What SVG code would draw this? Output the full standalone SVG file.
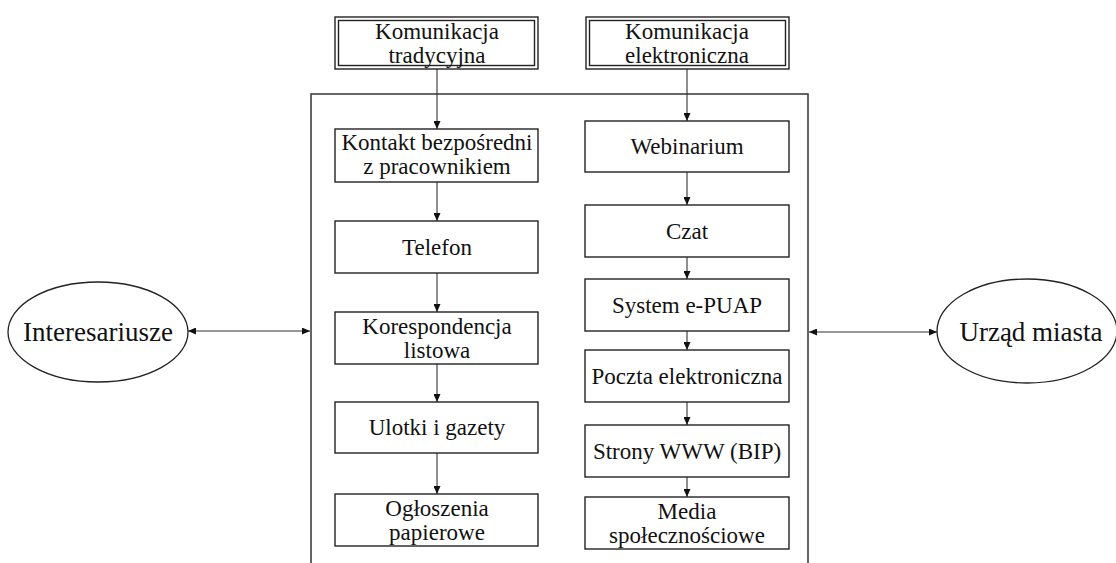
<svg xmlns="http://www.w3.org/2000/svg" width="1116" height="563" viewBox="0 0 1116 563">
<style>
text{font-family:"Liberation Serif","Times New Roman",serif;font-size:23px;fill:#111;text-anchor:middle}
.big{font-size:27px}
.box{fill:#fff;stroke:#222;stroke-width:1.4}
.ell{fill:#fff;stroke:#222;stroke-width:1.3}
.con{fill:none;stroke:#333;stroke-width:1.1}
.frame{fill:none;stroke:#333;stroke-width:1.5}
</style>
<defs>
<marker id="ah" markerUnits="userSpaceOnUse" markerWidth="9" markerHeight="7" refX="8" refY="3.5" orient="auto-start-reverse">
<path d="M0,0 L8,3.5 L0,7 z" fill="#111"/>
</marker>
</defs>
<rect width="1116" height="563" fill="#fff"/>
<path class="frame" d="M311,563 V94 H808 V563"/>
<g id="connectors">
<line class="con" x1="437" y1="69" x2="437" y2="129" marker-end="url(#ah)"/>
<line class="con" x1="437" y1="182" x2="437" y2="221" marker-end="url(#ah)"/>
<line class="con" x1="437" y1="273" x2="437" y2="312" marker-end="url(#ah)"/>
<line class="con" x1="437" y1="364" x2="437" y2="402" marker-end="url(#ah)"/>
<line class="con" x1="437" y1="453" x2="437" y2="494" marker-end="url(#ah)"/>
<line class="con" x1="687" y1="69" x2="687" y2="121" marker-end="url(#ah)"/>
<line class="con" x1="687" y1="172" x2="687" y2="205" marker-end="url(#ah)"/>
<line class="con" x1="687" y1="257" x2="687" y2="279" marker-end="url(#ah)"/>
<line class="con" x1="687" y1="331" x2="687" y2="350" marker-end="url(#ah)"/>
<line class="con" x1="687" y1="402" x2="687" y2="425" marker-end="url(#ah)"/>
<line class="con" x1="687" y1="477" x2="687" y2="497" marker-end="url(#ah)"/>
<line class="con" x1="188" y1="331" x2="310" y2="331" marker-start="url(#ah)" marker-end="url(#ah)"/>
<line class="con" x1="809" y1="332" x2="937" y2="332" marker-start="url(#ah)" marker-end="url(#ah)"/>
</g>
<g id="n-tradycyjna">
<rect class="box" x="335" y="17" width="203" height="52"/>
<rect class="box" x="338.5" y="20.5" width="196" height="45"/>
<text x="437" y="39">Komunikacja</text>
<text x="437" y="63">tradycyjna</text>
</g>
<g id="n-elektroniczna">
<rect class="box" x="586" y="17" width="203" height="52"/>
<rect class="box" x="589.5" y="20.5" width="196" height="45"/>
<text x="687" y="39">Komunikacja</text>
<text x="687" y="63">elektroniczna</text>
</g>
<g id="n-kontakt">
<rect class="box" x="335" y="129" width="203" height="53"/>
<text x="437" y="150">Kontakt bezpośredni</text>
<text x="437" y="174">z pracownikiem</text>
</g>
<g id="n-telefon">
<rect class="box" x="335" y="221" width="203" height="52"/>
<text x="437" y="255">Telefon</text>
</g>
<g id="n-korespondencja">
<rect class="box" x="335" y="312" width="203" height="52"/>
<text x="437" y="334">Korespondencja</text>
<text x="437" y="358">listowa</text>
</g>
<g id="n-ulotki">
<rect class="box" x="335" y="402" width="203" height="51"/>
<text x="437" y="435">Ulotki i gazety</text>
</g>
<g id="n-ogloszenia">
<rect class="box" x="335" y="494" width="203" height="52"/>
<text x="437" y="516">Ogłoszenia</text>
<text x="437" y="540">papierowe</text>
</g>
<g id="n-webinarium">
<rect class="box" x="585" y="121" width="204" height="51"/>
<text x="687" y="154">Webinarium</text>
</g>
<g id="n-czat">
<rect class="box" x="585" y="205" width="204" height="52"/>
<text x="687" y="239">Czat</text>
</g>
<g id="n-epuap">
<rect class="box" x="585" y="279" width="204" height="52"/>
<text x="687" y="313">System e-PUAP</text>
</g>
<g id="n-poczta">
<rect class="box" x="585" y="350" width="204" height="52"/>
<text x="687" y="384">Poczta elektroniczna</text>
</g>
<g id="n-strony">
<rect class="box" x="585" y="425" width="204" height="52"/>
<text x="687" y="459">Strony WWW (BIP)</text>
</g>
<g id="n-media">
<rect class="box" x="585" y="497" width="204" height="52"/>
<text x="687" y="519">Media</text>
<text x="687" y="543">społecznościowe</text>
</g>
<g id="n-interesariusze">
<ellipse class="ell" cx="98" cy="332" rx="90" ry="50"/>
<text class="big" x="98" y="341">Interesariusze</text>
</g>
<g id="n-urzad">
<ellipse class="ell" cx="1027" cy="331" rx="90" ry="52"/>
<text class="big" x="1031" y="341">Urząd miasta</text>
</g>
</svg>
